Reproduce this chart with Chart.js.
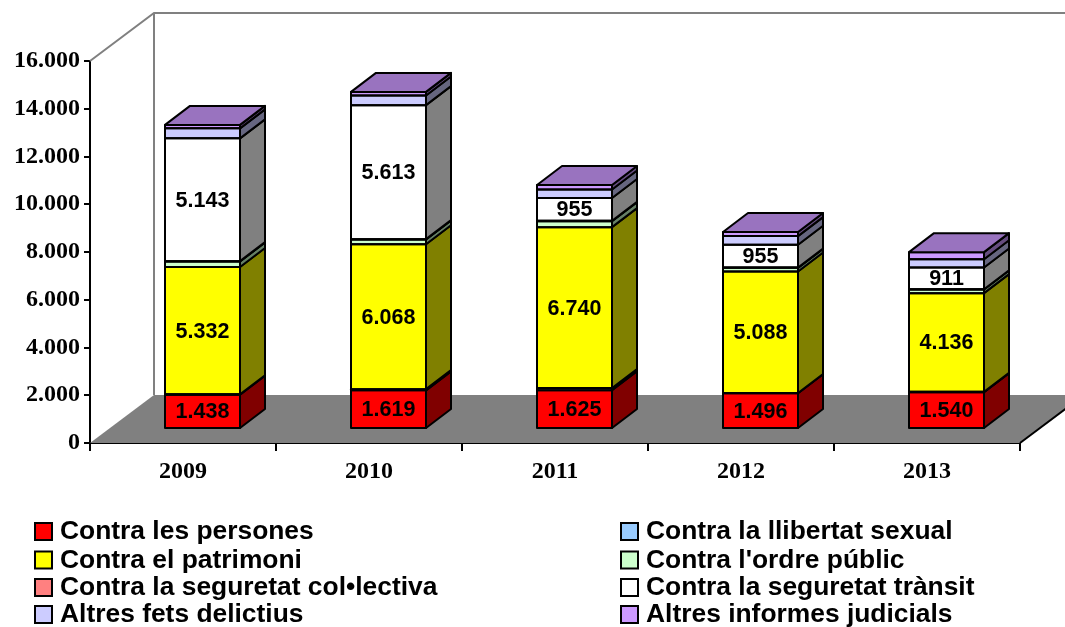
<!DOCTYPE html>
<html><head><meta charset="utf-8">
<style>html,body{margin:0;padding:0;background:#fff}canvas{display:block}</style>
<script src="https://cdn.jsdelivr.net/npm/chart.js@4"></script></head>
<body><canvas id="c" width="1065" height="627"></canvas>
<script>
const categories = ['2009','2010','2011','2012','2013'];
const contraPersones   = [1438,1619,1625,1496,1540];
const llibertatSexual  = [15,50,90,15,15];
const contraPatrimoni  = [5332,6068,6740,5088,4136];
const ordrePublic      = [230,200,250,150,150];
const seguretatCol     = [15,15,15,15,15];
const seguretatTransit = [5143,5613,955,955,911];
const altresFets       = [420,405,355,360,340];
const altresInformes   = [145,150,190,175,300];
const seriesNames = ['Contra les persones','Contra la llibertat sexual','Contra el patrimoni',"Contra l'ordre públic",'Contra la seguretat col•lectiva','Contra la seguretat trànsit','Altres fets delictius','Altres informes judicials'];
const seriesValues = [contraPersones,llibertatSexual,contraPatrimoni,ordrePublic,seguretatCol,seguretatTransit,altresFets,altresInformes];
const faceColors = ['#FF0000','#99CCFF','#FFFF00','#CCFFCC','#FF8080','#FFFFFF','#CCCCFF','#CC99FF'];
const sideColors = ['#800000','#4D6680','#808000','#668066','#804040','#808080','#666680','#664D80'];
const topColor = '#9973BF';
const labelledSeries = [0,2,5];
const yTickStep = 2000, yMax = 16000;

const fmt = v => String(v).replace(/\B(?=(\d{3})+$)/g,'.');
const DEPTH = {wx:64, wy:-48, bx:19.5, by:-14, sx:25, sy:-19};

const scene = {
  id:'scene',
  beforeDatasetsDraw(ch){
    const c=ch.ctx,a=ch.chartArea,d=DEPTH;
    c.save();
    c.strokeStyle='#808080'; c.lineWidth=2;
    c.beginPath();
    c.moveTo(a.left,a.top); c.lineTo(a.left+d.wx,a.top+d.wy);
    c.lineTo(a.right+d.wx,a.top+d.wy);
    c.moveTo(a.left+d.wx,a.top+d.wy); c.lineTo(a.left+d.wx,a.bottom+d.wy);
    c.stroke();
    c.fillStyle='#808080';
    c.beginPath();
    c.moveTo(a.left,a.bottom); c.lineTo(a.right,a.bottom);
    c.lineTo(a.right+d.wx,a.bottom+d.wy); c.lineTo(a.left+d.wx,a.bottom+d.wy);
    c.closePath(); c.fill();
    c.strokeStyle='#000'; c.beginPath();
    c.moveTo(a.right,a.bottom); c.lineTo(a.right+d.wx,a.bottom+d.wy); c.stroke();
    c.restore();
    c.save();
    c.translate(d.bx,d.by);
  },
  afterDatasetsDraw(ch){
    const c=ch.ctx,d=DEPTH;
    c.lineWidth=2; c.strokeStyle='#000'; c.lineJoin='round';
    const n=ch.data.datasets.length;
    for(let i=0;i<n;i++){
      ch.getDatasetMeta(i).data.forEach(b=>{
        const p=b.getProps(['x','y','base','width'],true);
        const r=p.x+p.width/2,l=p.x-p.width/2;
        c.strokeRect(l,p.y,p.width,p.base-p.y);
        c.fillStyle=sideColors[i];
        c.beginPath();
        c.moveTo(r,p.y);c.lineTo(r+d.sx,p.y+d.sy);c.lineTo(r+d.sx,p.base+d.sy);c.lineTo(r,p.base);c.closePath();
        c.fill();c.stroke();
        if(i===n-1){
          c.fillStyle=topColor;
          c.beginPath();
          c.moveTo(l,p.y);c.lineTo(l+d.sx,p.y+d.sy);c.lineTo(r+d.sx,p.y+d.sy);c.lineTo(r,p.y);c.closePath();
          c.fill();c.stroke();
        }
      });
    }
    c.fillStyle='#000'; c.font='bold 21.5px "Liberation Sans"'; c.textAlign='center'; c.textBaseline='middle';
    labelledSeries.forEach(i=>{
      ch.getDatasetMeta(i).data.forEach((b,j)=>{
        const p=b.getProps(['x','y','base'],true);
        c.fillText(fmt(seriesValues[i][j]),p.x,(p.y+p.base)/2+1);
      });
    });
    c.restore();
    const colX=[35,621], rowY=[532,560.5,588,615];
    c.save();
    c.font='bold 26.4px "Liberation Sans"'; c.textAlign='left'; c.textBaseline='middle';
    seriesNames.forEach((name,i)=>{
      const x=colX[i%2], y=rowY[Math.floor(i/2)];
      c.fillStyle=faceColors[i]; c.fillRect(x,y-9,17,17);
      c.strokeStyle='#000'; c.lineWidth=2; c.strokeRect(x,y-9,17,17);
      c.fillStyle='#000'; c.fillText(name,x+25,y);
    });
    c.restore();
  }
};

new Chart(document.getElementById('c'),{
  type:'bar',
  data:{labels:categories,datasets:seriesValues.map((v,i)=>({
    label:seriesNames[i],data:v,backgroundColor:faceColors[i],borderWidth:0,
    borderSkipped:false,inflateAmount:0,barThickness:75,clip:false
  }))},
  options:{
    responsive:false,animation:false,events:[],
    layout:{padding:{top:61,right:45,left:0,bottom:0}},
    plugins:{legend:{display:false},tooltip:{enabled:false},title:{display:false}},
    scales:{
      x:{stacked:true,
        afterFit(s){s.height=184;},
        grid:{drawOnChartArea:false,drawTicks:true,tickLength:8,color:'#000',lineWidth:2,offset:true},
        border:{color:'#000',width:2},
        ticks:{color:'#000',padding:6,maxRotation:0,font:{family:'"Liberation Serif"',weight:'bold',size:24}}
      },
      y:{stacked:true,min:0,max:yMax,
        afterFit(s){s.width=90;},
        grid:{drawOnChartArea:false,drawTicks:true,tickLength:6,color:'#000',lineWidth:2},
        border:{color:'#000',width:2},
        ticks:{color:'#000',stepSize:yTickStep,padding:4,callback:v=>fmt(v),font:{family:'"Liberation Serif"',weight:'bold',size:24}}
      }
    }
  },
  plugins:[scene]
});
</script></body></html>
